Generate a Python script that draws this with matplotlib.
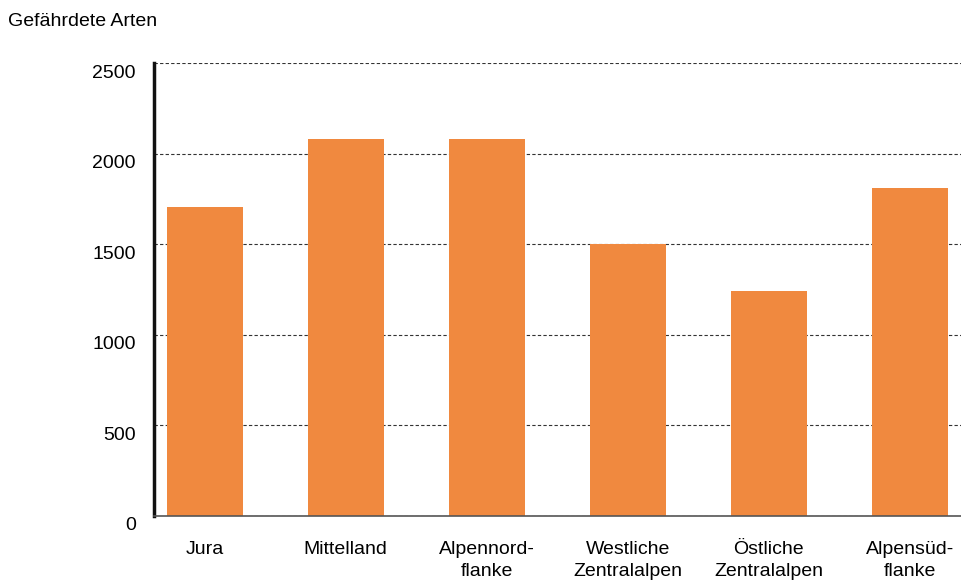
import matplotlib
matplotlib.use("Agg")
import matplotlib.pyplot as plt
import matplotlib.transforms as mtransforms
from matplotlib import font_manager

categories = ["Jura", "Mittelland", "Alpennord-\nflanke", "Westliche\nZentralalpen",
              "Östliche\nZentralalpen", "Alpensüd-\nflanke"]
values = [1705, 2080, 2080, 1500, 1242, 1808]
yticks = [0, 500, 1000, 1500, 2000, 2500]
ylabel = "Gefährdete Arten"

names = {f.name for f in font_manager.fontManager.ttflist}
fam = ["Liberation Sans Narrow", "DejaVu Sans"] if "Liberation Sans Narrow" in names else ["Liberation Sans", "DejaVu Sans"]
plt.rcParams["font.family"] = fam

fig = plt.figure(figsize=(9.62, 5.83), dpi=100)
ax = fig.add_axes([154/962, 1-516/583, 1-154/962, (516-63)/583])

x = list(range(len(categories)))
ax.bar(x, values, width=0.54, color="#F0893F", zorder=2)
ax.set_xlim(-0.36, 5.37)
ax.set_ylim(0, 2500)
ax.set_yticks(yticks)
ax.set_yticklabels([str(t) for t in yticks], fontsize=14)
ax.set_xticks(x)
ax.set_xticklabels(categories, fontsize=14, linespacing=1.35)
ax.tick_params(axis="y", length=0, pad=13)
ax.tick_params(axis="x", length=0, pad=18)
off = mtransforms.ScaledTranslation(0, -8/100, fig.dpi_scale_trans)
for lbl in ax.get_yticklabels():
    lbl.set_transform(lbl.get_transform() + off)
ax.yaxis.grid(True, linestyle=(0, (3, 2)), color="#333333", linewidth=0.8, zorder=0)
ax.set_axisbelow(True)
for s in ["top", "right"]:
    ax.spines[s].set_visible(False)
ax.spines["left"].set_linewidth(2.5)
ax.spines["left"].set_color("#111111")
ax.spines["bottom"].set_linewidth(1.2)
ax.spines["bottom"].set_color("#555555")
fig.text(8/962, 1-22/583, ylabel, fontsize=14, ha="left", va="center")

fig.savefig("out.png", dpi=100)
